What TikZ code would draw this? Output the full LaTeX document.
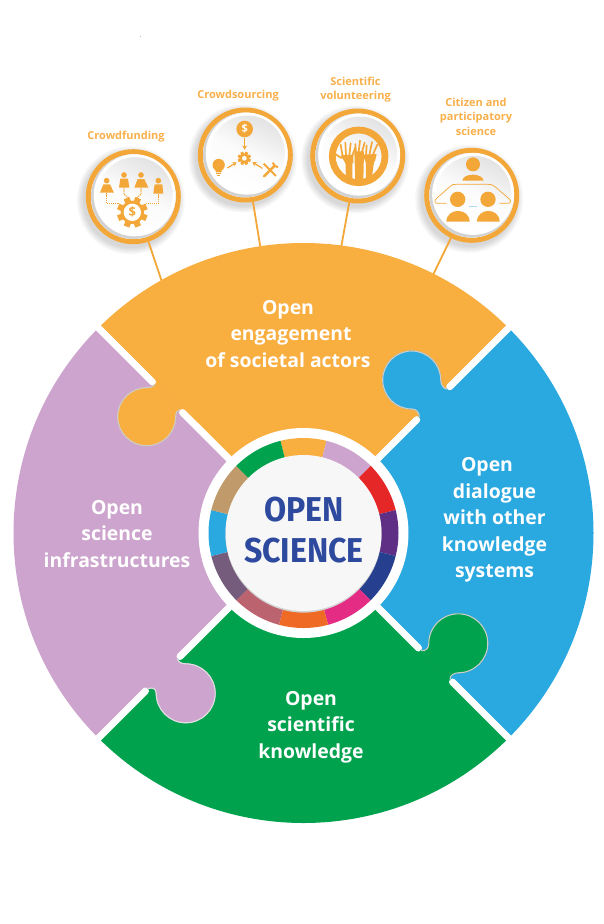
\documentclass[tikz,border=0pt]{standalone}
\usepackage{fontspec}
\setmainfont{Open Sans}
\newfontfamily\din{Fira Sans}
\usetikzlibrary{calc,arrows.meta}
\definecolor{cOrange}{HTML}{F9AE40}
\definecolor{cIcon}{HTML}{F3A738}
\definecolor{cLbl}{HTML}{F9B04B}
\definecolor{cLilac}{HTML}{CDA4CD}
\definecolor{cBlue}{HTML}{2AA8E0}
\definecolor{cGreen}{HTML}{00A24D}
\definecolor{cRed}{HTML}{E52728}
\definecolor{cPurple}{HTML}{5F2F85}
\definecolor{cNavy}{HTML}{26408F}
\definecolor{cMagenta}{HTML}{E52C85}
\definecolor{cOrRed}{HTML}{EE6A25}
\definecolor{cRose}{HTML}{BC6370}
\definecolor{cSlate}{HTML}{755B7C}
\definecolor{cTan}{HTML}{C19A6B}
\definecolor{cTitle}{HTML}{2E4A9E}
\tikzset{
  x=1pt,y=1pt,
  gap/.style={white,line width=7pt,line cap=round},
  tabline/.style={draw=#1,line width=1.1pt},
  bigtext/.style={text=white,font=\bfseries\fontsize{19.4}{26.5}\selectfont,align=center,inner sep=0pt},
  smalltext/.style={text=cLbl,font=\bfseries\fontsize{11}{14.6}\selectfont,align=center,inner sep=0pt},
  badge/.style={circle,draw=cIcon,line width=5pt,fill=white,minimum size=90pt,inner sep=0pt,outer sep=2.5pt},
  link/.style={draw=cIcon,line width=1.8pt},
  ico/.style={fill=cIcon,draw=none},
  icoline/.style={draw=cIcon,line width=1.1pt,dash pattern=on 1.2pt off 0.9pt},
  arr/.style={draw=cIcon,line width=1.2pt,-{Stealth[length=4.2pt,width=5pt]}},
}
\newcommand\badgeshadow[2]{%
  \foreach \r in {48,49.5,51,52.5,54}{\fill[black,opacity=.03] (#1-2.5,-#2-3.5) circle[radius=\r];}}
\newcommand\badgeface[1]{%
  \fill[gray!35] (#1) circle[radius=42.3];
  \fill[white] ($(#1)+(1.4,1.4)$) circle[radius=41];
  \shade[top color=gray!22,bottom color=white,middle color=gray!3,shading angle=-25] ($(#1)+(2,2)$) circle[radius=37.5];}
\newcommand\tabpiece[3]{\filldraw[fill=#1,draw=#1,line width=.8pt] #3 -- cycle; \draw[tabline=#2] #3;}
\begin{document}
\begin{tikzpicture}
\useasboundingbox (0,-924) rectangle (604,0);
\fill[white] (0,-924) rectangle (604,0);
\coordinate (c) at (303.5,-533);
\node[inner sep=0pt,font=\fontsize{5}{5}\selectfont] (dot) at (140.5,-37) {.};
\badgeshadow{133.3}{196.7}\badgeshadow{245.3}{155}\badgeshadow{357.7}{156}\badgeshadow{471.7}{195.3}
\node[badge] (cf) at (133.3,-196.7) {};
\node[badge] (cs) at (245.3,-155) {};
\node[badge] (sv) at (357.7,-156) {};
\node[badge] (cp) at (471.7,-195.3) {};
\coordinate (cfEnd) at (162,-282);
\coordinate (csEnd) at (260.5,-248);
\coordinate (svEnd) at (341,-248);
\coordinate (cpEnd) at (432,-277);
\draw[link] (cf) -- (cfEnd);
\draw[link] (cs) -- (csEnd);
\draw[link] (sv) -- (svEnd);
\draw[link] (cp) -- (cpEnd);
\badgeface{cf}\badgeface{cs}\badgeface{sv}\badgeface{cp}
\fill[cOrange] (c) -- ++(45:290) arc[start angle=45,end angle=135,radius=290] -- cycle;
\fill[cLilac] (c) -- ++(135:290) arc[start angle=135,end angle=225,radius=290] -- cycle;
\fill[cGreen] (c) -- ++(225:290) arc[start angle=225,end angle=315,radius=290] -- cycle;
\fill[cBlue] (c) -- ++(315:290) arc[start angle=315,end angle=405,radius=290] -- cycle;
\draw[gap] (c) -- (182.5,-412.5); \draw[gap] ($(c)+(135:300)$) -- (152.5,-382);
\draw[gap] (c) -- (416.8,-419.7); \draw[gap] ($(c)+(45:300)$) -- (449.8,-386.7);
\draw[gap] (c) -- (418.5,-648); \draw[gap] ($(c)+(-45:300)$) -- (452.5,-682);
\draw[gap] (c) -- (180,-656.5); \draw[gap] ($(c)+(225:300)$) -- (145.5,-691);
\tabpiece{cOrange}{gray!40}{(155,-384.5) .. controls (153,-387) and (150,-387.7) .. (146.7,-387.7) arc[start angle=90,end angle=360,radius=29] .. controls (175.7,-413) and (177,-410.5) .. (180,-409.5)}
\tabpiece{cBlue}{gray!40}{(447.3,-389.2) .. controls (443,-389) and (440.7,-384) .. (440.7,-380) arc[start angle=0,end angle=270,radius=29] .. controls (416,-409) and (419.5,-412) .. (419.3,-417.2)}
\tabpiece{cGreen}{gray!40}{(421,-650.5) .. controls (426,-651.5) and (428.8,-648) .. (428.8,-643.3) arc[start angle=180,end angle=-90,radius=29.5] .. controls (455,-672.8) and (449.5,-675) .. (450,-679.5)}
\tabpiece{cLilac}{gray!25}{(177.5,-658.5) .. controls (178,-662) and (181,-663.8) .. (185.7,-663.8) arc[start angle=90,end angle=-180,radius=29.5] .. controls (156.2,-689) and (153,-687) .. (148,-688.5)}
\fill[white] (c) circle[radius=105];
\foreach \sa/\ea/\col in {76/104/cOrange,45/76/cLilac,14/45/cRed,-14/14/cPurple,-45/-14/cNavy,-75/-45/cMagenta,-105/-75/cOrRed,-135/-105/cRose,-166/-135/cSlate,166/194/cBlue,135/166/cTan,104/135/cGreen}{
  \fill[\col] ($(c)+(\sa:95)$) arc[start angle=\sa,end angle=\ea,radius=95] -- ($(c)+(\ea:70)$) arc[start angle=\ea,end angle=\sa,radius=70] -- cycle;}
\fill[gray!35] ($(c)+(0,-1.6)$) circle[radius=78];
\fill[white!97!black] (c) circle[radius=78];
\node[text=cTitle,font=\din\bfseries\fontsize{34.5}{41}\selectfont,align=center,inner sep=0pt,xscale=.93] (title) at (304,-530) {OPEN\\SCIENCE};
\node[bigtext] (lOrange) at (288,-334) {Open\\\hspace*{6pt}engagement\\of societal actors};
\node[bigtext] (lBlue) at (494.5,-520) {Open\hspace*{15pt}\\dialogue\\with other\\knowledge\\systems};
\node[bigtext] (lLilac) at (117,-534) {Open\\science\\infrastructures};
\node[bigtext] (lGreen) at (311,-727) {Open\\scientific\\knowledge};
\node[smalltext] (tCf) at (126,-137) {Crowdfunding};
\node[smalltext] (tCs) at (238,-96) {Crowdsourcing};
\node[smalltext] (tSv) at (355.5,-89.5) {Scientific\\volunteering};
\node[smalltext] (tCp) at (476,-116.5) {Citizen and\\participatory\\science};
\begin{scope}[shift={(90,-155)},x=.3333pt,y=-.3333pt]
  \fill[ico] (50,77) circle[radius=8.5]; \fill[ico] (102,60) circle[radius=8.5];
  \fill[ico] (153,60) circle[radius=8.5]; \fill[ico] (205,77) circle[radius=8.5];
  \fill[ico] (40,88) -- (60,88) -- (72,113) -- (30,113) -- cycle;
  \fill[ico] (143,72) -- (163,72) -- (175,98) -- (133,98) -- cycle;
  \fill[ico] (91,71) -- (114,71) -- (118,98) -- (87,98) -- cycle;
  \fill[ico] (194,88) -- (217,88) -- (220,116) -- (190,116) -- cycle;
  \draw[icoline] (50,115) -- (50,146) -- (88,146);
  \draw[icoline] (205,118) -- (205,146) -- (168,146);
  \draw[icoline] (102,100) -- (102,118) -- (118,130);
  \draw[icoline] (153,100) -- (153,118) -- (138,130);
  \foreach \a in {0,45,...,315}{\fill[cIcon,shift={(127,172)},rotate=\a+22.5] (-9,0) rectangle (9,46);}
  \fill[cIcon] (127,172) circle[radius=35];
  \fill[white] (127,172) circle[radius=26];
  \node[text=cIcon,font=\bfseries\fontsize{13}{13}\selectfont,inner sep=0pt] (cfSign) at (127,172) {\$};
\end{scope}
\begin{scope}[shift={(205,-115)},x=.3333pt,y=-.3333pt]
  \node[circle,fill=cIcon,text=white,minimum size=16.6pt,inner sep=0pt,font=\bfseries\fontsize{11}{11}\selectfont] (coin) at (119,42) {\$};
  \foreach \a in {0,45,...,315}{\fill[cIcon,shift={(118,130)},rotate=\a+22.5] (-4.5,0) rectangle (4.5,20);}
  \fill[cIcon] (118,130) circle[radius=15];
  \fill[white] (118,130) circle[radius=7];
  \coordinate (gearTop) at (119,104); \coordinate (gearL) at (95,142); \coordinate (gearR) at (142,141);
  \coordinate (bulbR) at (67,159); \coordinate (toolL) at (172,160);
  \draw[arr] (coin) -- (gearTop);
  \draw[arr] (bulbR) -- (gearL);
  \draw[arr] (toolL) -- (gearR);
  \fill[ico] (41,150) circle[radius=18.5];
  \fill[ico] (30,160) -- (52,160) -- (49,172) -- (33,172) -- cycle;
  \draw[draw=cIcon,line width=.8pt] (34,176) -- (48,176) (36,181) -- (46,181);
  \draw[draw=cIcon,line width=2.4pt,line cap=round] (177,184) -- (208,153);
  \draw[draw=cIcon,line width=2pt] (209,152) -- (203,143) (209,152) -- (219,157);
  \draw[draw=cIcon,line width=2.1pt] (176,146) -- (213,183);
\end{scope}
\begin{scope}[shift={(320,-118)},x=.3333pt,y=-.3333pt]
  \draw[draw=cIcon,line width=6.8pt] (116,115) circle[radius=79];
  \begin{scope}
    \clip (116,115) circle[radius=80];
    \fill[ico] (76,120) -- (97,125) -- (97,190) -- (78,190) -- cycle;
    \fill[ico] (103,100) -- (132,100) -- (130,190) -- (106,190) -- cycle;
    \fill[ico] (138,120) -- (164,118) -- (154,190) -- (138,190) -- cycle;
    \fill[ico] (62,112) -- (100,110) -- (100,135) -- (80,142) -- cycle;
    \fill[ico] (130,110) -- (170,108) -- (165,130) -- (140,142) -- cycle;
  \end{scope}
  \draw[draw=cIcon,line width=1.7pt,line cap=round] (68,115) -- (62,80) (78,112) -- (76,74) (88,112) -- (92,76) (95,118) -- (106,88) (64,120) -- (44,107);
  \draw[draw=cIcon,line width=1.7pt,line cap=round] (108,105) -- (106,78) (116,102) -- (120,68) (125,105) -- (134,74);
  \draw[draw=cIcon,line width=1.7pt,line cap=round] (138,112) -- (140,82) (148,112) -- (156,72) (157,114) -- (172,80) (135,122) -- (120,104);
\end{scope}
\begin{scope}[shift={(430,-150)},x=.3333pt,y=-.3333pt]
  \fill[ico] (129,43) circle[radius=21];
  \fill[ico] (97,92) .. controls (100,68) and (157,68) .. (161,92) -- cycle;
  \fill[ico] (83,148) circle[radius=23];
  \fill[ico] (174,148) circle[radius=23];
  \fill[ico] (49,215) .. controls (50,172) and (118,172) .. (119,215) -- cycle;
  \fill[ico] (141,215) .. controls (142,172) and (208,172) .. (209,215) -- cycle;
  \draw[draw=cIcon,line width=.7pt,line join=round] (50,160) -- (20,160) .. controls (12,158) and (13,150) .. (22,143) -- (62,108) .. controls (66,103) and (70,103) .. (80,103) -- (172,103) .. controls (185,103) and (190,105) .. (195,110) -- (238,147) .. controls (246,155) and (240,160) .. (232,160) -- (208,160);
  \draw[draw=cBlue!40,line width=.6pt] (118,170) -- (140,170);
\end{scope}
\end{tikzpicture}
\end{document}
